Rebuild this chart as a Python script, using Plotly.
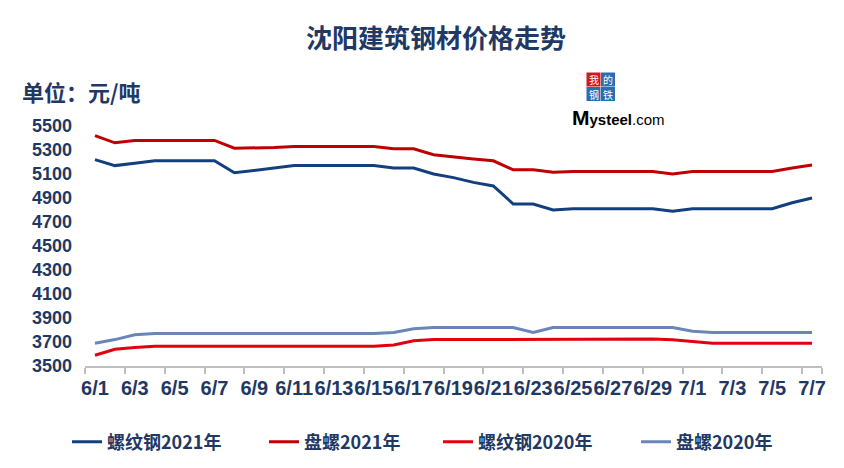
import plotly.graph_objects as go

# ---------------- data ----------------
dates = [f"6/{d}" for d in range(1, 31)] + [f"7/{d}" for d in range(1, 8)]
tick_labels = dates[::2]

rebar_2021 = [5220, 5170, 5190, 5210, 5210, 5210, 5210, 5110, 5130, 5150,
              5170, 5170, 5170, 5170, 5170, 5150, 5150, 5100, 5070, 5030,
              5000, 4850, 4850, 4800, 4810, 4810, 4810, 4810, 4810, 4790,
              4810, 4810, 4810, 4810, 4810, 4860, 4900]
coil_2021 = [5420, 5360, 5380, 5380, 5380, 5380, 5380, 5315, 5315, 5320,
             5330, 5330, 5330, 5330, 5330, 5310, 5310, 5260, 5240, 5225,
             5210, 5135, 5135, 5115, 5120, 5120, 5120, 5120, 5120, 5100,
             5120, 5120, 5120, 5120, 5120, 5150, 5175]
rebar_2020 = [3590, 3640, 3655, 3665, 3665, 3665, 3665, 3665, 3665, 3665,
              3665, 3665, 3665, 3665, 3665, 3675, 3710, 3720, 3720, 3720,
              3720, 3720, 3720, 3725, 3725, 3725, 3725, 3725, 3725, 3718,
              3705, 3690, 3690, 3690, 3690, 3690, 3690]
coil_2020 = [3690, 3720, 3760, 3770, 3770, 3770, 3770, 3770, 3770, 3770,
             3770, 3770, 3770, 3770, 3770, 3780, 3810, 3820, 3820, 3820,
             3820, 3820, 3780, 3820, 3820, 3820, 3820, 3820, 3820, 3820,
             3790, 3780, 3780, 3780, 3780, 3780, 3780]

series_names = ["螺纹钢2021年", "盘螺2021年", "螺纹钢2020年", "盘螺2020年"]
series_values = [rebar_2021, coil_2021, rebar_2020, coil_2020]
series_colors = ["#133F7F", "#C00000", "#E3000F", "#6A86B8"]

y_ticks = list(range(3500, 5501, 200))

NAVY = "#1F3864"
CJK = "Noto Sans CJK SC, sans-serif"
ARIAL = "Liberation Sans, Arial, sans-serif"

# plot-area pixel box (for decoration placement)
W, H = 844, 468
L, R, T, B = 85, 822, 126, 366
legend_x_px = [67, 264, 438, 636]


def px(x):
    return (x - L) / (R - L)


def py(y):
    return (B - y) / (B - T)


fig = go.Figure()
legend_ids = ["legend", "legend2", "legend3", "legend4"]
for name, vals, col, lid in zip(series_names, series_values, series_colors,
                                legend_ids):
    fig.add_trace(go.Scatter(x=dates, y=vals, mode="lines", name=name,
                             legend=lid, line=dict(color=col, width=3)))

legend_style = dict(orientation="h", xref="container", yref="container",
                    xanchor="left", y=1 - 442 / H, yanchor="middle",
                    font=dict(family=CJK, size=18, color=NAVY, weight="bold"),
                    bgcolor="rgba(0,0,0,0)")

layout_legends = {lid: dict(legend_style, x=lx / W)
                  for lid, lx in zip(legend_ids, legend_x_px)}

fig.update_layout(
    width=W, height=H,
    margin=dict(l=L, r=W - R, t=T, b=H - B),
    paper_bgcolor="white", plot_bgcolor="white",
    title=dict(text="沈阳建筑钢材价格走势", x=436 / W, xanchor="center",
               y=1 - 39 / H, yanchor="middle",
               font=dict(family=CJK, size=26, color=NAVY, weight="bold")),
    showlegend=True,
    xaxis=dict(type="category", categoryorder="array", categoryarray=dates,
               range=[-0.5, len(dates) - 0.5],
               tickmode="array", tickvals=tick_labels, ticktext=tick_labels,
               tickson="boundaries", ticks="outside", ticklen=6,
               tickwidth=1.5, tickcolor="#BFBFBF",
               showline=True, linecolor="#BFBFBF", linewidth=2,
               showgrid=False, zeroline=False, tickangle=0,
               ticklabelstandoff=3,
               tickfont=dict(family=ARIAL, size=20, color=NAVY, weight="bold")),
    yaxis=dict(range=[3500, 5500], tickmode="array", tickvals=y_ticks,
               showgrid=False, zeroline=False, showline=False, ticks="",
               ticklabelstandoff=12,
               tickfont=dict(family=ARIAL, size=18, color=NAVY, weight="bold")),
    **layout_legends,
)

# unit label
fig.add_annotation(text="单位：元/吨", xref="paper", yref="paper",
                   x=px(20), y=py(91), xanchor="left", yanchor="middle",
                   showarrow=False,
                   font=dict(family=CJK, size=22, color=NAVY, weight="bold"))

# Mysteel logo
boxes = [("我", 586.5, 72.5, "#D7141A"), ("的", 601, 72.5, "#2A6DB0"),
         ("钢", 586.5, 87, "#2A6DB0"), ("铁", 601, 87, "#2A6DB0")]
for ch, bx, by, c in boxes:
    fig.add_shape(type="rect", xref="paper", yref="paper",
                  x0=px(bx), x1=px(bx + 14), y0=py(by), y1=py(by + 14),
                  fillcolor=c, line=dict(width=0), layer="above")
    fig.add_annotation(text=ch, xref="paper", yref="paper",
                       x=px(bx + 7), y=py(by + 7), xanchor="center",
                       yanchor="middle", showarrow=False, borderpad=0,
                       font=dict(family=CJK, size=10, color="white"))
fig.add_annotation(text="<b><span style='font-size:21px'>M</span>ysteel</b>.com",
                   xref="paper", yref="paper", x=px(570), y=py(118),
                   xanchor="left", yanchor="middle", showarrow=False,
                   font=dict(family=ARIAL, size=15, color="black"))

fig.write_html("out.html", config={"displayModeBar": False},
               post_script="document.body.style.margin='0';")
